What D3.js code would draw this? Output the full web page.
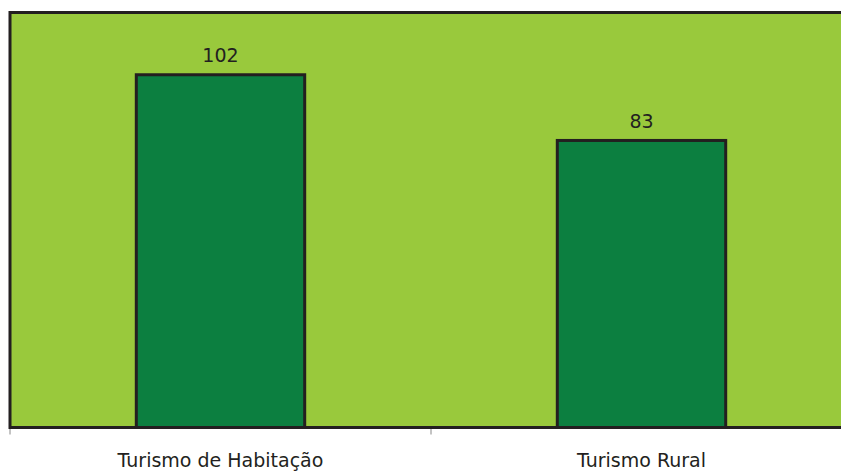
<!DOCTYPE html>
<html>
<head>
<meta charset="utf-8">
<script src="https://cdn.jsdelivr.net/npm/d3@7"></script>
<style>
  body { margin: 0; background: #fff; }
  text { font-family: "DejaVu Sans", Verdana, sans-serif; fill: #231f20; }
</style>
</head>
<body>
<script>
const categories = ['Turismo de Habitação', 'Turismo Rural'];
const values = [102, 83];

const width = 841;
const height = 473;
const margin = { top: 12.5, right: -11, bottom: 45, left: 10 };

const svg = d3.select('body')
  .append('svg')
  .attr('width', width)
  .attr('height', height);

const x = d3.scaleBand()
  .domain(categories)
  .range([margin.left, width - margin.right])
  .paddingInner(0.6)
  .paddingOuter(0.3);

const y = d3.scaleLinear()
  .domain([0, 120])
  .range([height - margin.bottom - 0.5, margin.top]);

const plotBottom = y(0);

// plot background
svg.append('rect')
  .attr('x', margin.left)
  .attr('y', margin.top)
  .attr('width', width - margin.left - margin.right)
  .attr('height', plotBottom - margin.top)
  .attr('fill', '#99c93c')
  .attr('stroke', '#231f20')
  .attr('stroke-width', 3);

// bars
svg.selectAll('.bar')
  .data(values)
  .enter().append('rect')
  .attr('class', 'bar')
  .attr('x', (d, i) => x(categories[i]))
  .attr('y', d => y(d))
  .attr('width', x.bandwidth())
  .attr('height', d => plotBottom - y(d))
  .attr('fill', '#0c7f40')
  .attr('stroke', '#231f20')
  .attr('stroke-width', 3);

// value labels
svg.selectAll('.val')
  .data(values)
  .enter().append('text')
  .attr('class', 'val')
  .attr('x', (d, i) => x(categories[i]) + x.bandwidth() / 2)
  .attr('y', d => y(d) - 12.5)
  .attr('text-anchor', 'middle')
  .style('font-size', '19px')
  .text(d => d);

// ticks between categories
const edges = [margin.left, margin.left + (width - margin.left - margin.right) / 2];
svg.selectAll('.tick')
  .data(edges)
  .enter().append('line')
  .attr('x1', d => d)
  .attr('x2', d => d)
  .attr('y1', plotBottom + 1.5)
  .attr('y2', plotBottom + 7)
  .attr('stroke', '#888')
  .attr('stroke-width', 1);

// category labels
svg.selectAll('.cat')
  .data(categories)
  .enter().append('text')
  .attr('class', 'cat')
  .attr('x', d => x(d) + x.bandwidth() / 2)
  .attr('y', 467)
  .attr('text-anchor', 'middle')
  .style('font-size', '19px')
  .text(d => d);
</script>
</body>
</html>
